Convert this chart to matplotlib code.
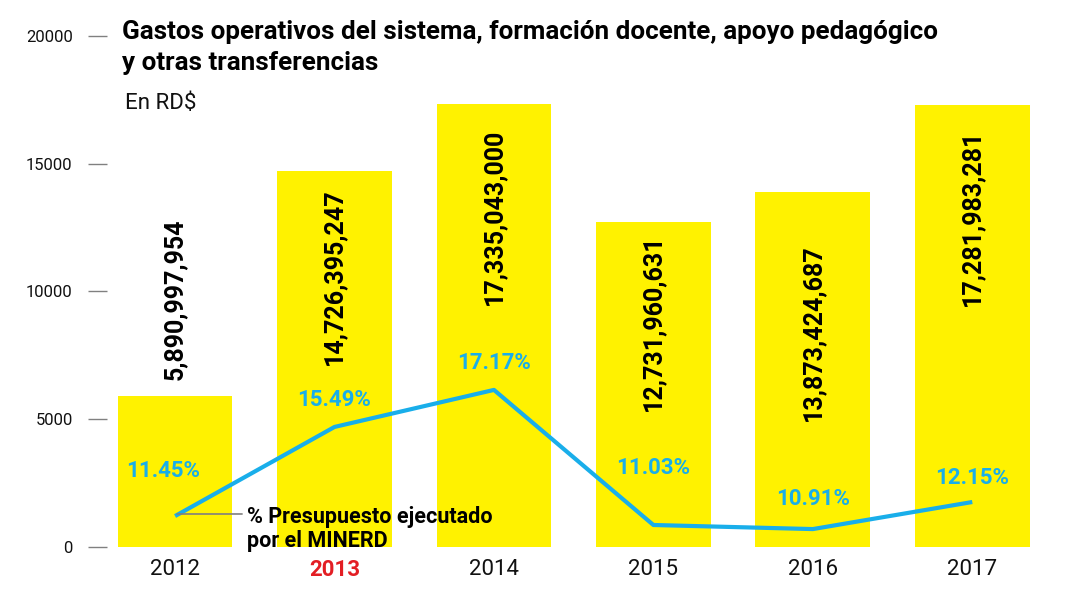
import matplotlib
matplotlib.use("Agg")
import matplotlib.pyplot as plt

# ---- data ----
years = ["2012", "2013", "2014", "2015", "2016", "2017"]
gastos_millones = [5890.997954, 14726.395247, 17335.043000, 12731.960631, 13873.424687, 17281.983281]
gastos_labels = ["5,890,997,954", "14,726,395,247", "17,335,043,000",
                 "12,731,960,631", "13,873,424,687", "17,281,983,281"]
pct_labels = ["11.45%", "15.49%", "17.17%", "11.03%", "10.91%", "12.15%"]
# line as drawn on the bar scale
linea_valores = [1200, 4690, 6140, 850, 690, 1750]
yticks = [0, 5000, 10000, 15000, 20000]

YELLOW = "#fff200"
CYAN = "#19aeea"
RED = "#e31e24"
FONT = "Roboto"

plt.rcParams["font.family"] = [FONT, "DejaVu Sans"]

W, H = 1087, 600
fig = plt.figure(figsize=(W / 100, H / 100), dpi=100)
ax = fig.add_axes([107 / W, 53.3 / H, (1052 - 107) / W, (546.7 - 36) / H])

x = list(range(len(years)))
ax.bar(x, gastos_millones, width=0.72, color=YELLOW, zorder=1)
ax.plot(x, linea_valores, color=CYAN, lw=3, solid_capstyle="butt", zorder=3)

ax.set_xlim(-0.427, 5.5)
ax.set_ylim(0, 20000)
for s in ax.spines.values():
    s.set_visible(False)

ax.set_yticks(yticks)
ax.set_yticklabels([str(v) for v in yticks], fontsize=12, fontweight="normal", color="#111111")
ax.tick_params(axis="y", length=13.7, width=1, color="#808080", pad=11)

ax.set_xticks(x)
ax.set_xticklabels(years, fontsize=16, fontweight="normal", color="#111111")
ax.tick_params(axis="x", length=0, pad=9)
for i, t in enumerate(ax.get_xticklabels()):
    if years[i] == "2013":
        t.set_color(RED)
        t.set_fontweight("bold")

# bar value labels (rotated)
label_offsets_pt = [12, -13, -18, -9.4, -37.4, -17.3]
for i, (v, lab) in enumerate(zip(gastos_millones, gastos_labels)):
    off = label_offsets_pt[i]
    ax.annotate(lab, xy=(i, v), xytext=(0, off), textcoords="offset points",
                rotation=90, ha="center", va="bottom" if off > 0 else "top",
                fontsize=18, fontweight="bold", color="black", zorder=4)

# percentage labels
pct_pos = [(-0.075, 2950), (0.0, 5750), (0.0, 7190), (0.0, 3090), (0.0, 1880), (0.0, 2690)]
for i, lab in enumerate(pct_labels):
    dx, yy = pct_pos[i]
    ax.text(i + dx, yy, lab, ha="center", va="center", fontsize=16,
            fontweight="bold", color=CYAN, zorder=4)

# annotation for the line: horizontal gray leader + two text lines
anchor = (0.0125, 1281)
ax.annotate("", xy=anchor, xytext=(46.8, 0), textcoords="offset points",
            arrowprops=dict(arrowstyle="-", color="#808080", lw=1.2,
                            shrinkA=0, shrinkB=0), zorder=5)
ax.annotate("% Presupuesto ejecutado", xy=anchor, xytext=(50.4, -6.5),
            textcoords="offset points", ha="left", va="baseline",
            fontsize=15.5, fontweight="bold", color="black", zorder=5)
ax.annotate("por el MINERD", xy=anchor, xytext=(50.4, -23.8),
            textcoords="offset points", ha="left", va="baseline",
            fontsize=15.5, fontweight="bold", color="black", zorder=5)

# title
fig.text(122 / W, 1 - 39 / H, "Gastos operativos del sistema, formación docente, apoyo pedagógico",
         fontsize=18.7, fontweight="bold", color="black", va="baseline", ha="left")
fig.text(122 / W, 1 - 70 / H, "y otras transferencias",
         fontsize=18.7, fontweight="bold", color="black", va="baseline", ha="left")
fig.text(125 / W, 1 - 109 / H, "En RD$", fontsize=16, fontweight="normal",
         color="#111111", va="baseline", ha="left")

fig.savefig("out.png", dpi=100)
